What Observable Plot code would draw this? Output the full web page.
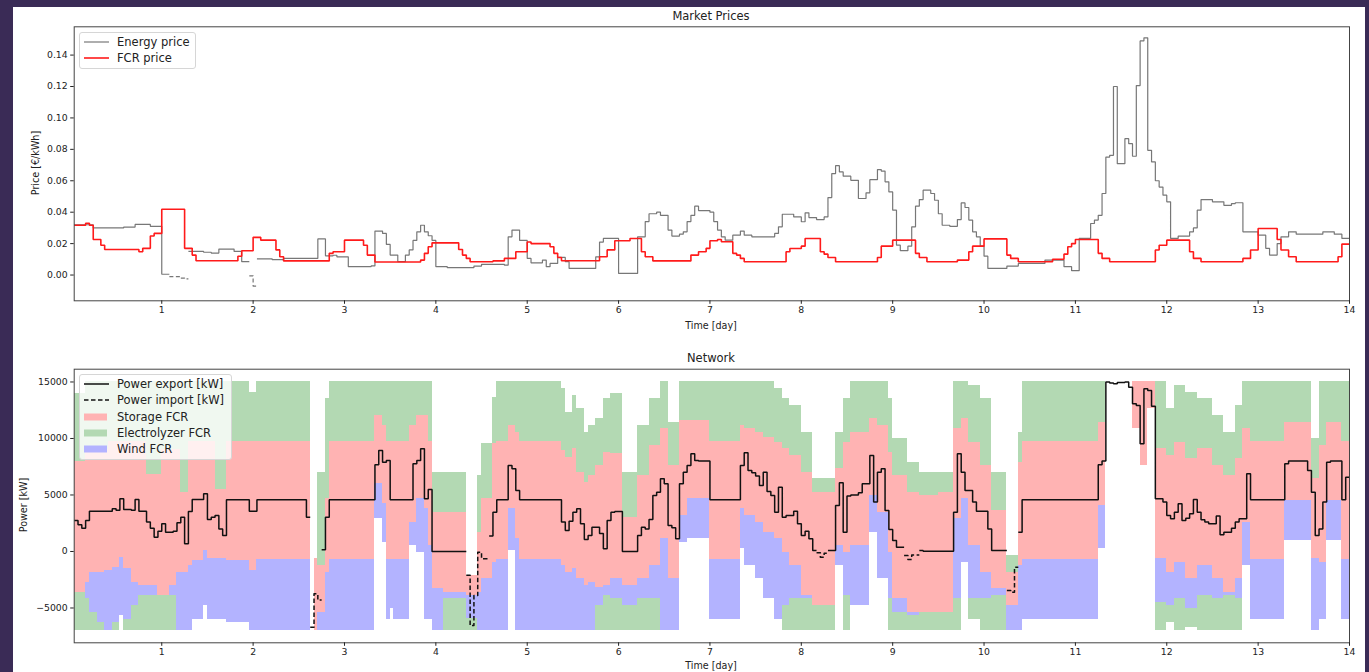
<!DOCTYPE html>
<html>
<head>
<meta charset="utf-8">
<script src="https://cdn.jsdelivr.net/npm/d3@7"></script>
<script src="https://cdn.jsdelivr.net/npm/@observablehq/plot@0.6"></script>
<style>
  html, body { margin: 0; padding: 0; width: 1369px; height: 672px; overflow: hidden; background: #3a2b56; font-family: "DejaVu Sans", sans-serif; }
  #card { position: absolute; left: 13px; top: 7px; width: 1352px; height: 665px; background: #fff; }
  .plot { position: absolute; left: 0; }
  .txt { position: absolute; color: #222; white-space: nowrap; transform: translate(-50%, -50%); }
  .title { font-size: 11.5px; }
  .axlabel { font-size: 9.6px; }
  .ylab { transform: translate(-50%, -50%) rotate(-90deg); }
  .legend { position: absolute; background: rgba(255,255,255,0.8); border: 1px solid #d6d6d6; border-radius: 3px; box-sizing: border-box; }
  .legend .row { position: absolute; left: 0; height: 0; }
  .legend svg { position: absolute; left: 4px; top: -6px; }
  .legend span { position: absolute; left: 37px; top: 0; transform: translateY(-50%); font-size: 11.5px; color: #222; white-space: nowrap; }
</style>
</head>
<body>
<div id="card"></div>
<script>
// ---- Time axis -------------------------------------------------------------
const dayTicks = [1, 2, 3, 4, 5, 6, 7, 8, 9, 10, 11, 12, 13, 14];
const hours = d3.range(1, 336);            // hourly steps, hour 1 .. 335
const xDomain = [1 / 24, 14];

// ---- Market prices [€/kWh], step change points [day, value] -----------------
const priceTicks = [0, 0.02, 0.04, 0.06, 0.08, 0.10, 0.12, 0.14];
const energyPrice = [
  [0.04, 0.034], [0.06, 0.032], [0.24, 0.030], [0.58, 0.0305], [0.71, 0.0322], [0.88, 0.031],
  [1.02, 0.0005], [1.10, -0.001], [1.20, -0.002], [1.26, -0.0025], [1.31, 0.015], [1.45, 0.0145],
  [1.55, 0.014], [1.63, 0.0165], [1.80, 0.015], [1.88, 0.0085], [1.96, -0.0005], [2.0, -0.007],
  [2.03, 0.0103], [2.2, 0.0098], [2.35, 0.0106], [2.70, 0.011], [2.72, 0.023], [2.79, 0.0122],
  [2.88, 0.0126], [2.92, 0.0116], [3.03, 0.0053], [3.29, 0.0058], [3.32, 0.028], [3.40, 0.0265],
  [3.45, 0.0195], [3.49, 0.0127], [3.60, 0.0085], [3.67, 0.0127], [3.71, 0.016], [3.75, 0.022],
  [3.80, 0.0275], [3.84, 0.0317], [3.87, 0.0275], [3.91, 0.025], [3.95, 0.022], [3.99, 0.0053],
  [4.13, 0.0047], [4.40, 0.0057], [4.51, 0.0068], [4.73, 0.0063], [4.79, 0.0243], [4.82, 0.0286],
  [4.90, 0.027], [4.93, 0.022], [4.99, 0.016], [5.02, 0.0106], [5.06, 0.0078], [5.17, 0.0095],
  [5.22, 0.0053], [5.26, 0.0074], [5.32, 0.0095], [5.35, 0.0112], [5.42, 0.0085], [5.46, 0.0042],
  [5.75, 0.0116], [5.81, 0.021], [5.85, 0.0233], [6.01, 0.001], [6.21, 0.0243], [6.28, 0.034],
  [6.34, 0.039], [6.41, 0.040], [6.47, 0.038], [6.54, 0.0286], [6.57, 0.0248], [6.65, 0.026],
  [6.70, 0.0275], [6.76, 0.034], [6.79, 0.038], [6.83, 0.0438], [6.89, 0.041], [6.99, 0.040],
  [7.03, 0.034], [7.07, 0.0286], [7.12, 0.0243], [7.16, 0.0222], [7.25, 0.0254], [7.34, 0.028],
  [7.38, 0.0254], [7.45, 0.0243], [7.69, 0.0265], [7.73, 0.0307], [7.78, 0.0387], [7.91, 0.037],
  [8.0, 0.0339], [8.04, 0.0396], [8.09, 0.0366], [8.18, 0.0353], [8.24, 0.037], [8.29, 0.0493],
  [8.35, 0.0646], [8.38, 0.0696], [8.42, 0.0656], [8.47, 0.0629], [8.55, 0.0603], [8.62, 0.0487],
  [8.69, 0.0523], [8.75, 0.0607], [8.82, 0.0671], [8.86, 0.0662], [8.91, 0.0593], [8.95, 0.0529],
  [8.99, 0.0476], [9.02, 0.0413], [9.04, 0.019], [9.08, 0.0155], [9.17, 0.0184], [9.22, 0.0307],
  [9.26, 0.0438], [9.29, 0.048], [9.35, 0.054], [9.40, 0.0519], [9.44, 0.0476], [9.50, 0.039],
  [9.53, 0.0317], [9.64, 0.031], [9.71, 0.0353], [9.74, 0.0459], [9.79, 0.043], [9.83, 0.035],
  [9.86, 0.0275], [9.92, 0.0243], [9.97, 0.0184], [10.0, 0.012], [10.03, 0.0053], [10.04, 0.0042],
  [10.23, 0.0057], [10.37, 0.0074], [10.66, 0.0095], [10.88, 0.0053], [10.96, 0.0028], [11.05, 0.0233],
  [11.16, 0.0328], [11.19, 0.035], [11.23, 0.038], [11.28, 0.0519], [11.32, 0.0751], [11.38, 0.0762],
  [11.41, 0.12], [11.47, 0.0709], [11.54, 0.0868], [11.58, 0.0836], [11.63, 0.0756], [11.67, 0.1206],
  [11.70, 0.149], [11.74, 0.151], [11.80, 0.0794], [11.83, 0.072], [11.89, 0.060], [11.92, 0.056],
  [11.96, 0.0508], [12.0, 0.0466], [12.05, 0.0233], [12.14, 0.0248], [12.27, 0.0275], [12.31, 0.030],
  [12.34, 0.0413], [12.38, 0.048], [12.49, 0.0466], [12.64, 0.0444], [12.71, 0.0455], [12.76, 0.046],
  [12.84, 0.0275], [13.0, 0.0254], [13.07, 0.017], [13.13, 0.0127], [13.22, 0.020], [13.27, 0.0243],
  [13.33, 0.0275], [13.40, 0.026], [13.70, 0.0275], [13.84, 0.026], [13.93, 0.0233]
];
const fcrPrice = [
  [0.04, 0.0317], [0.15, 0.033], [0.19, 0.0317], [0.24, 0.0226], [0.33, 0.019], [0.38, 0.0163],
  [0.73, 0.0148], [0.80, 0.017], [0.86, 0.0248], [0.93, 0.0265], [1.0, 0.0419], [1.24, 0.017],
  [1.33, 0.0127], [1.37, 0.0091], [1.83, 0.012], [1.88, 0.0155], [1.99, 0.024], [2.08, 0.0222],
  [2.23, 0.016], [2.30, 0.0116], [2.35, 0.009], [2.83, 0.0138], [2.88, 0.0148], [2.99, 0.0222],
  [3.19, 0.019], [3.25, 0.0127], [3.32, 0.0083], [3.82, 0.0095], [3.87, 0.0138], [3.93, 0.018],
  [3.97, 0.0205], [4.24, 0.0163], [4.29, 0.0127], [4.35, 0.0106], [4.38, 0.0085], [4.62, 0.009],
  [4.77, 0.0106], [4.86, 0.0148], [4.99, 0.021], [5.04, 0.020], [5.24, 0.018], [5.30, 0.0138],
  [5.35, 0.0112], [5.39, 0.0091], [5.81, 0.0116], [5.86, 0.016], [5.97, 0.0218], [6.12, 0.0233],
  [6.25, 0.0148], [6.30, 0.0116], [6.36, 0.0095], [6.39, 0.009], [6.81, 0.0127], [6.87, 0.0148],
  [6.94, 0.017], [7.01, 0.0218], [7.07, 0.0226], [7.12, 0.0212], [7.25, 0.0138], [7.29, 0.0127],
  [7.34, 0.0106], [7.38, 0.0085], [7.84, 0.0148], [7.87, 0.0169], [8.0, 0.0184], [8.06, 0.0233],
  [8.22, 0.0148], [8.26, 0.0133], [8.31, 0.0112], [8.38, 0.0085], [8.82, 0.0112], [8.88, 0.0184],
  [9.0, 0.0222], [9.24, 0.0138], [9.31, 0.0112], [9.39, 0.0085], [9.72, 0.0095], [9.83, 0.0148],
  [9.88, 0.0184], [10.0, 0.023], [10.24, 0.0127], [10.30, 0.0106], [10.37, 0.0085], [10.74, 0.010],
  [10.87, 0.0133], [10.90, 0.018], [10.96, 0.020], [11.01, 0.0226], [11.25, 0.0138], [11.30, 0.0106],
  [11.38, 0.0085], [11.87, 0.0159], [11.92, 0.019], [11.99, 0.0222], [12.23, 0.0148], [12.31, 0.0106],
  [12.36, 0.0085], [12.85, 0.0106], [12.93, 0.0159], [13.0, 0.0296], [13.2, 0.0226], [13.26, 0.0159],
  [13.33, 0.0116], [13.40, 0.0085], [13.88, 0.0116], [13.93, 0.0197]
];

// ---- Network: grid exchange [kW], step change points [day, value] ------------
const powerTicks = [-5000, 0, 5000, 10000, 15000];
const gridPower = [
  [0.04, 2740], [0.07, 2360], [0.11, 2065], [0.15, 2740], [0.20, 3570], [0.44, 3780], [0.48, 3650],
  [0.55, 4660], [0.58, 3720], [0.68, 3650], [0.70, 4600], [0.75, 3570], [0.82, 2600], [0.86, 2065],
  [0.90, 1270], [0.95, 1800], [0.99, 2655], [1.02, 2450], [1.06, 1710], [1.12, 1800], [1.17, 2540],
  [1.21, 3040], [1.24, 680], [1.29, 3540], [1.32, 4370], [1.35, 4600], [1.44, 5100], [1.48, 2830],
  [1.53, 3040], [1.57, 3190], [1.61, 2000], [1.66, 1420], [1.72, 4570], [1.95, 3570], [2.03, 4570],
  [2.59, 3040], [2.63, -6700], [2.66, -3750], [2.69, -4300], [2.73, 150], [2.79, 3040], [2.83, 4570],
  [3.33, 7670], [3.36, 8940], [3.40, 7900], [3.44, 8050], [3.49, 4570], [3.75, 7760], [3.78, 8050],
  [3.82, 9090], [3.87, 4660], [3.91, 5490], [3.95, 0], [4.33, -2100], [4.37, -6550], [4.42, -3900],
  [4.46, -60], [4.49, -350], [4.52, -650], [4.57, 1360], [4.62, 3480], [4.66, 4570], [4.79, 7610],
  [4.82, 7320], [4.86, 5400], [4.93, 4570], [5.37, 2600], [5.41, 1860], [5.46, 2680], [5.50, 3480],
  [5.53, 3780], [5.57, 2450], [5.61, 1060], [5.66, 1420], [5.70, 2150], [5.73, 1950], [5.77, 2150],
  [5.81, 1600], [5.83, 240], [5.86, 2740], [5.90, 3480], [5.94, 3540], [6.03, 0], [6.21, 1420],
  [6.25, 2150], [6.28, 2000], [6.34, 2830], [6.38, 4960], [6.41, 5250], [6.47, 6430], [6.50, 6000],
  [6.54, 2300], [6.57, 2100], [6.63, 1120], [6.67, 6000], [6.70, 7020], [6.76, 7610], [6.79, 8640],
  [6.83, 8050], [6.87, 8000], [6.99, 4570], [7.32, 7610], [7.36, 8730], [7.41, 7170], [7.47, 6960],
  [7.51, 6670], [7.54, 5840], [7.58, 7020], [7.62, 5310], [7.65, 4960], [7.69, 4070], [7.72, 3480],
  [7.75, 5690], [7.79, 3040], [7.85, 3190], [7.91, 3570], [7.94, 2450], [7.99, 1420], [8.04, 1800],
  [8.09, 1120], [8.13, 90], [8.16, -120], [8.22, -500], [8.27, -150], [8.31, 90], [8.37, 4070],
  [8.40, 6080], [8.46, 1710], [8.49, 4900], [8.55, 5000], [8.62, 5190], [8.67, 6000], [8.73, 8500],
  [8.78, 4370], [8.82, 7020], [8.87, 7320], [8.91, 3630], [8.97, 1950], [9.02, 970], [9.06, 380],
  [9.11, -350], [9.17, -700], [9.22, -300], [9.28, 90], [9.33, 30], [9.66, 3480], [9.70, 8640],
  [9.75, 7020], [9.81, 5400], [9.86, 4370], [9.90, 3780], [9.93, 3570], [10.04, 2000], [10.08, 90],
  [10.24, -3450], [10.30, -3600], [10.33, -1390], [10.37, 1710], [10.43, 4570], [11.25, 7670],
  [11.28, 8000], [11.33, 15000], [11.38, 14900], [11.41, 14840], [11.47, 14950], [11.54, 15000],
  [11.58, 14540], [11.61, 13070], [11.65, 12920], [11.69, 11450], [11.72, 9530], [11.76, 14400],
  [11.80, 14250], [11.83, 12860], [11.88, 4660], [11.96, 4370], [12.0, 3190], [12.03, 2890],
  [12.07, 3480], [12.12, 4220], [12.18, 2740], [12.21, 2950], [12.27, 3330], [12.31, 4600],
  [12.34, 3480], [12.38, 2800], [12.42, 2600], [12.47, 2450], [12.53, 1420], [12.56, 3130],
  [12.60, 1480], [12.64, 1710], [12.69, 2065], [12.74, 2600], [12.80, 2890], [12.86, 6870],
  [12.90, 4570], [13.29, 7760], [13.35, 8000], [13.55, 7170], [13.58, 5250], [13.62, 1420],
  [13.66, 2000], [13.69, 4370], [13.77, 7900], [13.80, 8000], [13.91, 4570], [13.97, 6580]
];

// ---- Network: FCR band edges [kW], one entry per change day -----------------
const bandDay = [
  0, 0.06, 0.15, 0.22, 0.29, 0.37, 0.40, 0.46, 0.53, 0.58, 0.66, 0.77, 0.84, 0.95, 0.99, 1.10, 1.17, 1.20, 1.28, 1.33,
  1.46, 1.50, 1.60, 1.70, 1.72, 1.95, 2.03, 2.62, 2.66, 2.72, 2.79, 2.83, 3.33, 3.41, 3.47, 3.51, 3.56, 3.71, 3.78, 3.87,
  3.93, 3.95, 4.07, 4.33, 4.44, 4.51, 4.62, 4.66, 4.79, 4.86, 4.91, 5.37, 5.42, 5.48, 5.55, 5.61, 5.66, 5.75, 5.84, 5.92,
  6.05, 6.21, 6.34, 6.45, 6.56, 6.67, 6.74, 7.0, 7.32, 7.38, 7.49, 7.60, 7.71, 7.78, 7.89, 8.0, 8.13, 8.36, 8.44, 8.55,
  8.73, 8.84, 8.95, 9.02, 9.17, 9.31, 9.50, 9.68, 9.73, 9.84, 9.97, 10.08, 10.24, 10.37, 10.43, 11.25, 11.33, 11.61, 11.72, 11.78,
  11.88, 11.98, 12.09, 12.2, 12.34, 12.49, 12.62, 12.74, 12.85, 12.93, 13.29, 13.58, 13.66, 13.73, 13.91
];
// lower edge of the lower electrolyzer band
const greenLow = [
  -7000, -7000, -7000, -7000, -7000, -7000, -7000, -7000, -5660, -7000, -7000, -7000, -7000, -7000, -7000, -7000, -7000, -7000, -7000, -6000,
  -4780, -6000, -6000, -6250, -6250, -7000, -7000, -7000, -7000, -7000, -7000, -7000, 2890, 830, -6000, -5070, -6000, 530, -60, -6000,
  -6000, -7000, -7000, -7000, -7000, -7000, -7000, -7000, 90, -7000, -7000, -7000, -7000, -7000, -7000, -7000, -7000, -7000, -7000, -7000,
  -7000, -7000, -7000, -7000, -7000, 830, 1120, -6000, 240, -1240, -2420, -4190, -6000, -7000, -7000, -7000, -7000, -1240, -7000, -4780,
  1710, -2420, -7000, -7000, -7000, -7000, -7000, -7000, -940, -6000, -7000, -7000, -7000, -7000, -6000, 240, 15000, 10860, 7610, 12630,
  -7000, -6250, -7000, -6700, -7000, -7000, -7000, -7000, -1240, -6000, 970, -7000, -6000, 970, -6000
];
// lower edge of the wind band
const blueLow = [
  -3600, -3600, -4190, -5370, -6250, -7000, -7000, -6250, -5660, -6000, -4780, -3890, -3890, -3890, -3890, -3890, -7000, -7000, -7000, -6000,
  -4780, -6000, -6000, -6250, -6250, -7000, -7000, -7000, -7000, -7000, -7000, -7000, 2890, 830, -6000, -5070, -6000, 530, -60, -6000,
  -6000, -7000, -4190, -5960, -7000, -7000, -7000, -7000, 90, -7000, -7000, -7000, -7000, -7000, -7000, -7000, -7000, -4780, -3890, -4190,
  -4780, -4190, -4190, -7000, -7000, 830, 1120, -6000, 240, -1240, -2420, -4190, -6000, -4780, -4190, -4190, -4780, -1240, -3890, -4780,
  1710, -2420, -4190, -5370, -5660, -5370, -5370, -4190, -940, -4190, -4190, -3890, -7000, -7000, -6000, 240, 15000, 10860, 7610, 12630,
  -4480, -4780, -4190, -5070, -3890, -4190, -3890, -4190, -1240, -6000, 970, -7000, -6000, 970, -6000
];
// lower edge of the storage band
const redLow = [
  -3600, -3600, -2710, -1830, -1830, -1680, -1680, -1390, -500, -1530, -2710, -3010, -3010, -3890, -3890, -3010, -1830, -1830, -1240, -800,
  90, -650, -650, -800, -800, -1680, -700, -7000, -7000, -5370, -1830, -700, 5990, 4220, -700, -700, -700, 2600, 4660, 3780,
  530, -3300, -3600, -3890, -3600, -2420, -940, -700, 3780, 1120, -700, -1240, -1830, -1530, -2420, -3010, -2710, -3160, -3010, -2420,
  -3010, -2420, -1240, 1120, -2420, 3190, 4660, -700, 3780, 3190, 2600, 1710, 1120, -60, -1240, -3890, -4780, 530, -60, 530,
  4960, 3480, -60, -4190, -5370, -5370, -5370, 2890, 4660, 530, -1830, -3300, -4780, -1240, -700, 4070, 15000, 10860, 7610, 12630,
  -650, -1830, -940, -2420, -1240, -2420, -3600, -2420, 2600, -700, 4510, -650, -940, 4510, -700
];
// upper edge of the storage band
const redHigh = [
  7900, 8000, 9000, 9000, 9000, 9000, 9700, 9700, 9700, 9700, 9700, 9700, 6800, 6800, 9000, 9000, 9000, 5250, 9700, 9700,
  9700, 9700, 5500, 5500, 9750, 9750, 9750, -7000, -590, -1240, 4660, 9750, 12040, 11150, 9750, 9750, 9750, 11150, 12040, 12040,
  9750, 3480, 3480, -2120, 1710, 4660, 9530, 9750, 11150, 10560, 9750, 8940, 8350, 9090, 7020, 6140, 6730, 7610, 8790, 8640,
  3040, 6730, 9380, 10860, 7610, 11590, 11590, 9750, 11150, 10860, 10560, 10120, 9680, 9090, 8500, 7020, 5250, 7320, 9680, 10560,
  11740, 11150, 8790, 6730, 5250, 4960, 5250, 10860, 11740, 9680, 7610, 3630, -1830, 7910, 9750, 11450, 15000, 15000, 15000, 15000,
  9090, 8500, 9680, 8200, 9090, 7610, 6730, 8200, 10860, 9750, 11450, 6430, 9380, 11450, 9750
];
// upper edge of the upper electrolyzer band
const greenHigh = [
  12300, 14000, 15000, 15000, 15000, 15000, 15000, 15000, 15000, 15000, 15000, 15000, 15000, 15000, 15000, 15000, 15000, 15000, 15000, 15000,
  15000, 15000, 15000, 15000, 15000, 14100, 15000, -7000, -590, 7020, 13500, 15000, 15000, 15000, 15000, 15000, 15000, 15000, 15000, 15000,
  15000, 7020, 7020, -2120, 6730, 9530, 13660, 15000, 15000, 15000, 15000, 14400, 12330, 13800, 12630, 10560, 11150, 11740, 13510, 13950,
  7020, 11150, 13510, 15000, 11450, 15000, 15000, 15000, 15000, 15000, 15000, 15000, 14400, 13510, 12920, 10560, 6430, 10560, 13510, 15000,
  15000, 15000, 13510, 9970, 7910, 7020, 7020, 15000, 15000, 14700, 13510, 7020, -350, 10560, 15000, 15000, 15000, 15000, 15000, 15000,
  15000, 12630, 14700, 14100, 13510, 12040, 10560, 12920, 15000, 15000, 15000, 9970, 15000, 15000, 15000
];

// ---- Legend labels ----------------------------------------------------------
const priceLegend = ["Energy price", "FCR price"];
const networkLegend = ["Power export [kW]", "Power import [kW]", "Storage FCR", "Electrolyzer FCR", "Wind FCR"];

// ---- Helpers ------------------------------------------------------------------
const GREY = "#777", RED = "#ff1a1a";
const FILL_STORAGE = "#ffb3b3", FILL_ELECTRO = "#b3d9b3", FILL_WIND = "#b3b3ff";

function stepValue(pairs, d) {
  let v = pairs[0][1];
  for (const p of pairs) { if (p[0] <= d + 1e-9) v = p[1]; else break; }
  return v;
}
function bandValue(arr, d) {
  let v = arr[0];
  for (let i = 0; i < bandDay.length; i++) { if (bandDay[i] <= d + 1e-9) v = arr[i]; else break; }
  return v;
}
// Hourly step segments, split into runs of same sign (positive solid, negative dashed)
function stepSegments(pairs) {
  const pts = [];
  let g = -1, prev = null;
  for (const h of hours) {
    const v = stepValue(pairs, (h + 0.5) / 24);
    const pos = v >= 0;
    if (pos !== prev) { g++; prev = pos; }
    pts.push({day: h / 24, v, g, pos}, {day: (h + 1) / 24, v, g, pos});
  }
  return pts;
}
const fmtPower = d => d < 0 ? "\u2212" + Math.abs(d) : String(d);

// ---- Market prices panel ------------------------------------------------------
const energyPts = stepSegments(energyPrice);
const fcrPts = stepSegments(fcrPrice);

const axisStyle = {background: "transparent", fontFamily: "DejaVu Sans", fontSize: "9.3px", color: "#222", overflow: "visible"};

const pricePlot = Plot.plot({
  width: 1369, height: 340,
  marginLeft: 73.7, marginRight: 20, marginTop: 26.3, marginBottom: 39.7,
  style: axisStyle,
  x: {domain: xDomain},
  y: {domain: [-0.0164, 0.158]},
  marks: [
    Plot.line(energyPts.filter(p => p.pos), {x: "day", y: "v", z: "g", stroke: GREY, strokeWidth: 1.2, strokeLinejoin: "miter", strokeLinecap: "butt"}),
    Plot.line(energyPts.filter(p => !p.pos), {x: "day", y: "v", z: "g", stroke: GREY, strokeWidth: 1.2, strokeDasharray: "4 2.5", strokeLinecap: "butt"}),
    Plot.line(fcrPts, {x: "day", y: "v", z: "g", stroke: RED, strokeWidth: 1.6, strokeLinejoin: "miter", strokeLinecap: "butt"}),
    Plot.frame({stroke: "#444", strokeWidth: 1}),
    Plot.axisX({ticks: dayTicks, tickFormat: d => String(d), tickSize: 3.5, tickPadding: 2, label: null}),
    Plot.axisY({ticks: priceTicks, tickFormat: d3.format(".2f"), tickSize: 3.5, tickPadding: 3, label: null})
  ]
});
pricePlot.classList.add("plot");
pricePlot.style.top = "0px";
document.body.appendChild(pricePlot);

// ---- Network panel --------------------------------------------------------------
const bandRows = hours.map(h => {
  const d = (h + 0.5) / 24;
  return {day: h / 24, g0: bandValue(greenLow, d), b0: bandValue(blueLow, d), r0: bandValue(redLow, d),
          r1: bandValue(redHigh, d), g1: bandValue(greenHigh, d)};
});
bandRows.push({...bandRows[bandRows.length - 1], day: 14});
const gridPts = stepSegments(gridPower);

const areaOpts = {x: "day", curve: "step-after", shapeRendering: "crispEdges"};
const networkPlot = Plot.plot({
  width: 1369, height: 332,
  marginLeft: 73.7, marginRight: 20, marginTop: 28.7, marginBottom: 29.7,
  style: axisStyle,
  x: {domain: xDomain},
  y: {domain: [-8080, 16130]},
  marks: [
    Plot.areaY(bandRows, {...areaOpts, y1: "g0", y2: "b0", fill: FILL_ELECTRO}),
    Plot.areaY(bandRows, {...areaOpts, y1: "b0", y2: "r0", fill: FILL_WIND}),
    Plot.areaY(bandRows, {...areaOpts, y1: "r0", y2: "r1", fill: FILL_STORAGE}),
    Plot.areaY(bandRows, {...areaOpts, y1: "r1", y2: "g1", fill: FILL_ELECTRO}),
    Plot.line(gridPts.filter(p => p.pos), {x: "day", y: "v", z: "g", stroke: "#111", strokeWidth: 1.5, strokeLinejoin: "miter", strokeLinecap: "butt"}),
    Plot.line(gridPts.filter(p => !p.pos), {x: "day", y: "v", z: "g", stroke: "#111", strokeWidth: 1.5, strokeDasharray: "4.5 2.5", strokeLinecap: "butt"}),
    Plot.frame({stroke: "#444", strokeWidth: 1}),
    Plot.axisX({ticks: dayTicks, tickFormat: d => String(d), tickSize: 3.5, tickPadding: 2, label: null}),
    Plot.axisY({ticks: powerTicks, tickFormat: fmtPower, tickSize: 3.5, tickPadding: 3, label: null})
  ]
});
networkPlot.classList.add("plot");
networkPlot.style.top = "340px";
document.body.appendChild(networkPlot);

// ---- Titles and axis labels -------------------------------------------------------
function addText(text, cls, x, y) {
  const el = document.createElement("div");
  el.className = "txt " + cls;
  el.textContent = text;
  el.style.left = x + "px";
  el.style.top = y + "px";
  document.body.appendChild(el);
}
addText("Market Prices", "title", 711, 15.5);
addText("Time [day]", "axlabel", 711, 325);
addText("Price [\u20ac/kWh]", "axlabel ylab", 35, 163);
addText("Network", "title", 711, 358);
addText("Time [day]", "axlabel", 711, 665);
addText("Power [kW]", "axlabel ylab", 23, 505);

// ---- Legends ----------------------------------------------------------------------
function addLegend(left, top, width, height, entries, rowY) {
  const box = document.createElement("div");
  box.className = "legend";
  Object.assign(box.style, {left: left + "px", top: top + "px", width: width + "px", height: height + "px"});
  entries.forEach((e, i) => {
    const row = document.createElement("div");
    row.className = "row";
    row.style.top = rowY[i] + "px";
    let sample;
    if (e.kind === "line") {
      sample = `<line x1="0" x2="25" y1="6" y2="6" stroke="${e.color}" stroke-width="${e.width}"${e.dash ? ` stroke-dasharray="${e.dash}"` : ""}/>`;
    } else {
      sample = `<rect x="0" y="2.5" width="23" height="7" fill="${e.color}"/>`;
    }
    row.innerHTML = `<svg width="26" height="12">${sample}</svg><span>${e.label}</span>`;
    box.appendChild(row);
  });
  document.body.appendChild(box);
}
addLegend(79, 32, 117, 37, [
  {label: priceLegend[0], kind: "line", color: GREY, width: 1.2},
  {label: priceLegend[1], kind: "line", color: RED, width: 1.6}
], [8.5, 24.5]);
addLegend(79, 374, 153, 86, [
  {label: networkLegend[0], kind: "line", color: "#111", width: 1.5},
  {label: networkLegend[1], kind: "line", color: "#111", width: 1.5, dash: "4.5 2.5"},
  {label: networkLegend[2], kind: "rect", color: FILL_STORAGE},
  {label: networkLegend[3], kind: "rect", color: FILL_ELECTRO},
  {label: networkLegend[4], kind: "rect", color: FILL_WIND}
], [8.8, 25.2, 41.6, 58, 74.4]);
</script>
</body>
</html>
